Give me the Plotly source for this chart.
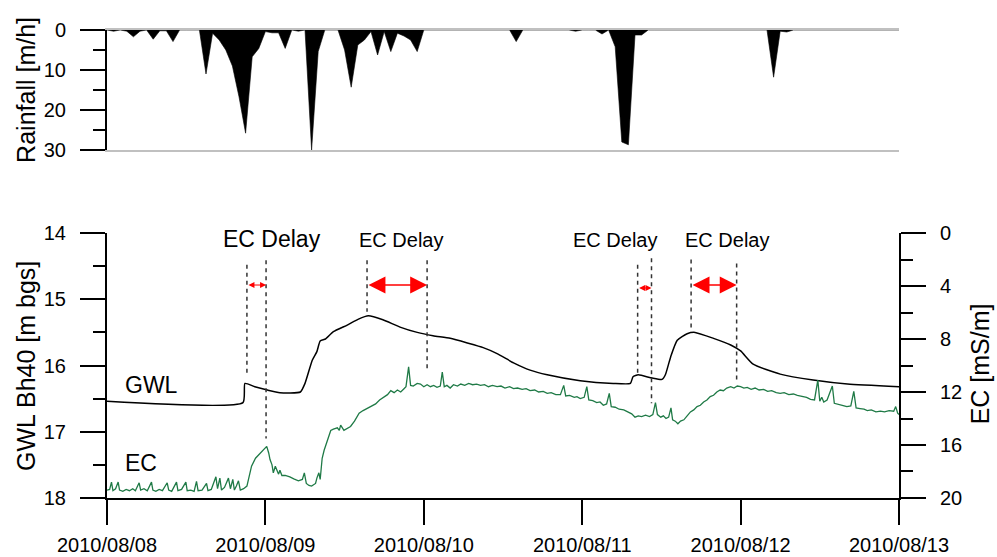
import pandas as pd
import plotly.graph_objects as go

BASE = pd.Timestamp("2010-08-08 00:00")
day_ticks = ["2010-08-08", "2010-08-09", "2010-08-10", "2010-08-11", "2010-08-12", "2010-08-13"]
day_labels = ["2010/08/08", "2010/08/09", "2010/08/10", "2010/08/11", "2010/08/12", "2010/08/13"]

# Hourly rainfall [mm/h] (hours since 2010-08-08 00:00); hours not listed are 0
rain_hours = [1, 3, 4, 5, 7, 8, 9, 10, 15, 16, 17, 18, 19, 20, 21, 22, 23, 24, 25, 26, 27, 29,
              31, 32, 36, 37, 38, 39, 40, 41, 42, 43, 44, 45, 46, 47, 62, 71, 75, 77, 78, 79,
              80, 81, 101, 102, 103]
rain_mm = [0.3, 0.3, 1.7, 0.3, 2.3, 0.2, 0.2, 2.9, 11.0, 0.8, 2.5, 5.0, 9.0, 16.7, 25.8, 6.7,
           4.6, 0.4, 0.7, 0.7, 4.6, 0.3, 30.0, 5.4, 5.0, 14.3, 3.75, 2.5, 0.4, 6.25, 0.4, 5.4,
           0.8, 1.5, 2.5, 5.4, 2.9, 0.3, 1.0, 4.2, 28.0, 28.7, 1.25, 1.25, 11.8, 0.3, 0.5]

# Groundwater level GWL Bh40 [m bgs]
gwl_hours = [0, 20.6, 20.9, 22.4, 24.3, 26.2, 29.3, 30.0, 31.1, 31.8, 32.3, 33.1, 34.3, 36.4,
             38.1, 39.6, 41.8, 44.4, 47.0, 49.4, 52.0, 54.6, 57.0, 59.1, 61.6, 64.1, 66.7,
             71.7, 76.7, 79.3, 79.7, 80.5, 82.6, 84.1, 84.6, 85.4, 86.4, 87.9, 89.1, 91.9,
             94.5, 96.0, 97.9, 102.0, 107.0, 112.2, 120.0]
gwl_m = [16.54, 16.56, 16.27, 16.32, 16.37, 16.41, 16.40, 16.27, 15.92, 15.79, 15.63, 15.60,
         15.49, 15.39, 15.30, 15.25, 15.31, 15.42, 15.50, 15.55, 15.59, 15.66, 15.73, 15.82,
         15.96, 16.07, 16.14, 16.23, 16.27, 16.27, 16.17, 16.14, 16.19, 16.21, 16.14, 15.87,
         15.62, 15.52, 15.50, 15.59, 15.69, 15.78, 15.98, 16.13, 16.22, 16.28, 16.32]

# Electrical conductivity EC [mS/m]
ec_hours = [0.0, 0.4, 0.68, 0.9, 1.3, 1.69, 1.9, 2.4, 2.9, 3.4, 3.9, 4.3, 4.87, 5.1, 5.6, 6.1,
            6.74, 6.95, 7.4, 7.9, 8.4, 9.12, 9.35, 9.8, 10.53, 10.75, 11.3, 11.95, 12.15, 12.7,
            13.2, 13.56, 13.8, 14.4, 15.08, 15.3, 15.8, 16.5, 16.75, 17.1, 17.35, 17.8, 18.4,
            18.7, 19.06, 19.3, 19.6, 19.92, 20.2, 20.7, 21.2, 21.6, 21.9, 22.5, 23.2, 23.8,
            24.2, 24.5, 24.7, 25.0, 25.2, 25.5, 25.7, 26.0, 26.2, 26.5, 27.0, 27.7, 28.3, 29.0,
            29.6, 29.9, 30.2, 30.6, 31.0, 31.4, 31.6, 31.8, 32.1, 32.3, 32.6, 32.9, 33.1, 33.5,
            33.9, 34.3, 34.9, 35.2, 35.4, 35.9, 36.4, 36.9, 37.5, 38.2, 38.8, 39.5, 40.1, 40.7,
            41.3, 42.0, 42.5, 43.0, 43.5, 44.0, 44.5, 45.0, 45.3, 45.7, 46.0, 46.4, 47.0, 47.5,
            48.0, 48.5, 49.0, 49.5, 50.0, 50.5, 50.8, 51.1, 51.5, 52.0, 52.5, 53.1, 53.6, 54.2,
            54.8, 55.4, 56.0, 56.6, 57.2, 57.8, 58.4, 59.1, 59.7, 60.3, 61.0, 61.6, 62.2, 62.9,
            63.5, 64.1, 64.8, 65.4, 66.1, 66.7, 67.3, 68.0, 68.7, 69.2, 69.5, 70.1, 70.8, 71.2,
            71.7, 72.3, 72.7, 73.0, 73.6, 74.2, 74.7, 75.2, 75.7, 76.1, 76.4, 77.0, 77.6, 78.3,
            78.9, 79.5, 80.0, 80.5, 81.0, 81.6, 82.2, 82.7, 83.1, 83.4, 83.9, 84.3, 84.7, 85.1,
            85.45, 85.7, 86.1, 86.5, 86.9, 87.4, 87.9, 88.4, 88.9, 89.4, 89.9, 90.4, 90.9, 91.4,
            91.9, 92.4, 92.9, 93.4, 93.9, 94.5, 95.0, 95.5, 96.0, 96.5, 97.0, 97.6, 98.2, 98.8,
            99.5, 100.1, 100.7, 101.4, 102.0, 102.6, 103.3, 104.0, 104.6, 105.3, 106.0, 106.6,
            107.2, 107.7, 108.0, 108.3, 108.6, 109.1, 109.9, 110.2, 110.8, 111.4, 112.1, 112.7,
            113.15, 113.5, 114.1, 114.7, 115.2, 115.8, 116.5, 117.2, 117.8, 118.5, 119.2, 119.5,
            119.8, 120.0]
ec_ms = [19.4, 19.35, 18.8, 19.45, 19.3, 18.8, 19.4, 19.5, 19.35, 19.45, 19.3, 19.45, 18.85,
         19.4, 19.3, 19.45, 18.8, 19.4, 19.5, 19.35, 19.45, 18.85, 19.4, 19.5, 18.8, 19.45,
         19.35, 18.8, 19.45, 19.4, 19.5, 18.75, 19.45, 19.4, 18.9, 19.45, 19.35, 18.4, 19.3,
         18.5, 19.4, 19.2, 18.5, 19.3, 18.6, 19.4, 19.1, 18.7, 19.4, 19.3, 19.1, 18.3, 17.6,
         17.0, 16.6, 16.3, 16.1, 16.6, 17.1, 17.5, 18.1, 17.6, 17.8, 18.2, 17.9, 18.3, 18.3,
         18.4, 18.55, 18.7, 18.6, 18.1, 18.9, 19.05, 19.1, 19.0, 18.9, 18.5, 18.1, 18.6, 17.0,
         16.4, 16.1, 15.4, 14.9, 14.8, 14.7, 14.9, 14.5, 14.9, 14.75, 14.6, 14.2, 13.6, 13.4,
         13.2, 13.05, 12.9, 12.6, 12.4, 12.2, 11.9, 12.05, 11.85, 12.0, 11.75, 11.6, 10.1, 11.5,
         11.55, 11.35, 11.4, 11.6, 11.45, 11.6, 11.5, 11.65, 11.55, 10.5, 11.6, 11.5, 11.7,
         11.45, 11.55, 11.4, 11.5, 11.35, 11.45, 11.4, 11.5, 11.45, 11.6, 11.5, 11.6, 11.55,
         11.7, 11.6, 11.75, 11.7, 11.8, 11.75, 11.9, 11.85, 12.0, 11.95, 12.1, 12.05, 12.2,
         12.2, 11.5, 12.3, 12.25, 12.4, 12.35, 12.5, 12.4, 11.6, 12.6, 12.65, 12.8, 12.75, 13.0,
         12.9, 12.1, 13.1, 13.15, 13.3, 13.35, 13.5, 13.65, 13.9, 13.8, 13.85, 13.75, 13.85,
         13.7, 12.8, 13.7, 13.9, 13.8, 14.0, 13.9, 13.2, 14.1, 14.2, 14.4, 14.2, 14.1, 13.8,
         13.5, 13.35, 13.1, 13.0, 12.75, 12.6, 12.35, 12.25, 12.0, 11.85, 11.9, 11.7, 11.6,
         11.7, 11.55, 11.6, 11.7, 11.65, 11.8, 11.7, 11.85, 11.8, 11.95, 11.9, 12.05, 12.1,
         12.05, 12.2, 12.15, 12.25, 12.35, 12.4, 12.55, 12.6, 11.1, 12.7, 12.4, 12.75, 12.6,
         11.55, 12.85, 12.9, 13.0, 13.1, 13.05, 11.95, 13.2, 13.25, 13.3, 13.4, 13.35, 13.5,
         13.45, 13.5, 13.4, 13.45, 13.1, 13.6, 13.7]

# EC delay events: (GWL response hour, EC response hour)
delay_start_h = [21.2, 39.4, 80.4, 88.5]
delay_end_h = [24.1, 48.5, 82.5, 95.4]


def t(h):
    return BASE + pd.to_timedelta(h, unit="h")


rain_full = [0.0] * 121
for h, v in zip(rain_hours, rain_mm):
    rain_full[h] = v
rain_x = [t(h) for h in range(121)]

FONT = "Arial, Liberation Sans, sans-serif"
RED = "#ff0000"
GREEN = "#1f7a46"

fig = go.Figure()
fig.add_trace(go.Scatter(x=rain_x, y=rain_full, xaxis="x2", yaxis="y2", mode="lines",
                         fill="tozeroy", fillcolor="black", line=dict(color="black", width=0.6),
                         showlegend=False, hoverinfo="skip"))
fig.add_trace(go.Scatter(x=[t(h) for h in gwl_hours], y=gwl_m, xaxis="x", yaxis="y",
                         mode="lines", line=dict(color="black", width=1.5, shape="spline",
                                                 smoothing=0.5),
                         showlegend=False))
fig.add_trace(go.Scatter(x=[t(h) for h in ec_hours], y=ec_ms, xaxis="x", yaxis="y3",
                         mode="lines", line=dict(color=GREEN, width=1.3), showlegend=False))

# dashed event lines (extent in GWL-axis units) and red arrows
start_top = [14.48, 14.41, 14.48, 14.40]
start_bot = [16.12, 15.19, 16.14, 15.46]
end_top = [14.41, 14.41, 14.38, 14.46]
end_bot = [17.10, 16.07, 16.57, 16.27]
arrow_y = [14.785, 14.785, 14.83, 14.785]
big = [False, True, False, True]

shapes = []
annotations = []
for i in range(4):
    for hh, y0, y1 in [(delay_start_h[i], start_top[i], start_bot[i]),
                       (delay_end_h[i], end_top[i], end_bot[i])]:
        shapes.append(dict(type="line", xref="x", yref="y", x0=t(hh), x1=t(hh), y0=y0, y1=y1,
                           line=dict(color="#333333", width=1.5, dash="4px,4px")))
    annotations.append(dict(x=t(delay_end_h[i]), y=arrow_y[i], ax=t(delay_start_h[i]),
                            ay=arrow_y[i], xref="x", yref="y", axref="x", ayref="y", text="",
                            showarrow=True, arrowside="end+start", arrowhead=2,
                            arrowcolor=RED, arrowwidth=1.3 if big[i] else 1.0,
                            arrowsize=2.6 if big[i] else 1.2, standoff=0, startstandoff=0))

label_h = [25.0, 44.6, 77.0, 94.0]
label_y = [14.09, 14.11, 14.11, 14.11]
label_size = [23, 20, 20, 20]
for i in range(4):
    annotations.append(dict(x=t(label_h[i]), y=label_y[i], xref="x", yref="y", text="EC Delay",
                            showarrow=False, xanchor="center", yanchor="middle",
                            font=dict(size=label_size[i], color="black", family=FONT)))

annotations.append(dict(x=t(2.4), y=16.29, xref="x", yref="y", text="GWL", showarrow=False,
                        xanchor="left", yanchor="middle",
                        font=dict(size=23, color="black", family=FONT)))
annotations.append(dict(x=t(2.4), y=17.47, xref="x", yref="y", text="EC", showarrow=False,
                        xanchor="left", yanchor="middle",
                        font=dict(size=23, color="black", family=FONT)))

# axis titles
for txt, xp, yp in [("GWL Bh40 [m bgs]", -0.1023, 0.282), ("Rainfall [m/h]", -0.1023, 0.872),
                    ("EC [mS/m]", 1.1025, 0.286)]:
    annotations.append(dict(x=xp, y=yp, xref="paper", yref="paper", text=txt, textangle=-90,
                            showarrow=False, xanchor="center", yanchor="middle",
                            font=dict(size=25, color="black", family=FONT)))

axis_common = dict(showgrid=False, zeroline=False, showline=True, linecolor="black",
                   linewidth=2, ticks="outside", ticklen=25, tickwidth=2, tickcolor="black",
                   tickfont=dict(size=20, color="black", family=FONT), ticklabelstandoff=10,
                   automargin=False)

fig.update_layout(
    width=997, height=557, autosize=False,
    margin=dict(l=107, r=98, t=30, b=59, pad=0),
    paper_bgcolor="white", plot_bgcolor="white",
    showlegend=False,
    xaxis=dict(axis_common, type="date", range=[day_ticks[0], day_ticks[-1]],
               tickvals=day_ticks, ticktext=day_labels, anchor="y", domain=[0, 1],
               ticklabelstandoff=3),
    yaxis=dict(axis_common, range=[18, 14], tick0=14, dtick=1, domain=[0, 0.5662],
               anchor="x",
               minor=dict(dtick=0.5, ticklen=12, tickwidth=2, tickcolor="black",
                          ticks="outside")),
    yaxis3=dict(axis_common, range=[20, 0], tick0=0, dtick=4, overlaying="y", side="right",
                anchor="x",
                minor=dict(dtick=2, ticklen=12, tickwidth=2, tickcolor="black",
                           ticks="outside")),
    xaxis2=dict(type="date", range=[day_ticks[0], day_ticks[-1]], anchor="y2",
                showgrid=False, zeroline=False, showline=True, linecolor="#c0c0c0",
                linewidth=2, mirror=True, showticklabels=False, ticks="", automargin=False),
    yaxis2=dict(axis_common, range=[30, 0], tick0=0, dtick=10, domain=[0.7436, 1],
                anchor="x2",
                minor=dict(dtick=5, ticklen=12, tickwidth=2, tickcolor="black",
                           ticks="outside")),
    shapes=shapes,
    annotations=annotations,
)

fig.write_html("out.html")
